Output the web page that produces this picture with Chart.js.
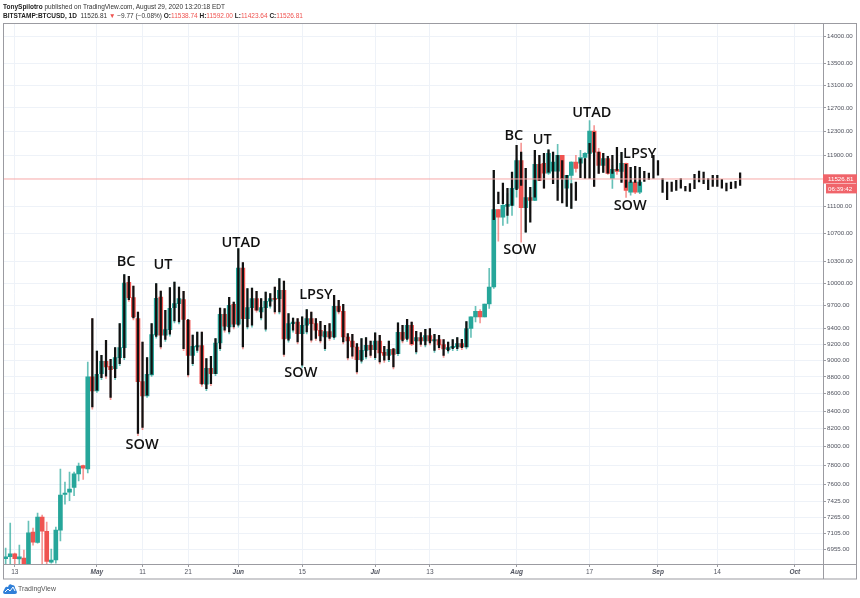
<!DOCTYPE html>
<html>
<head>
<meta charset="utf-8">
<script src="https://cdn.jsdelivr.net/npm/chart.js@4/dist/chart.umd.min.js"></script>
<style>
html,body{margin:0;padding:0;background:#fff;width:860px;height:598px;overflow:hidden}
canvas{position:absolute;left:0;top:0}
.hdr{position:absolute;left:3px;font-family:"Liberation Sans",Arial,sans-serif;font-size:6.5px;line-height:9px;color:#333;white-space:pre}
.hdr b{color:#222}
.hdr i{font-style:normal;color:#ef5350}
#logo{position:absolute;left:3px;top:583px;width:14px;height:11px}
#brand{position:absolute;left:18px;top:584px;font-family:"Liberation Sans",Arial,sans-serif;font-size:6.9px;line-height:10px;color:#555}
</style>
</head>
<body>
<canvas id="c" width="860" height="598"></canvas>
<div class="hdr" style="top:2px"><b>TonySpilotro</b> published on TradingView.com, August 29, 2020 13:20:18 EDT</div>
<div class="hdr" style="top:11px"><b>BITSTAMP:BTCUSD, 1D</b>  11526.81 <i>▼</i> −9.77 (−0.08%) <b>O:</b><i>11538.74</i> <b>H:</b><i>11592.00</i> <b>L:</b><i>11423.64</i> <b>C:</b><i>11526.81</i></div>
<svg id="logo" viewBox="0 0 14 11"><path d="M0 9 L2 5 Q3 3 5 4 Q6 0 9 2 Q12 2 12 5 L14 9 Q14 11 12 11 L2 11 Q0 11 0 9Z" fill="#2f7fd8"/><path d="M2 9 L5 6 L7 8 L10 4 L12 8" fill="none" stroke="#fff" stroke-width="1"/></svg>
<div id="brand">TradingView</div>
<script>
// Day index 0 = 11 Apr 2020
const xTickDays = [2,20,30,40,51,65,81,93,112,128,143,156,173];
const xTickLabels = ["13","May","11","21","Jun","15","Jul","13","Aug","17","Sep","14","Oct"];
const priceTicks = [14000,13500,13100,12700,12300,11900,11100,10700,10300,10000,9700,9400,9200,9000,8800,8600,8400,8200,8000,7800,7600,7425,7265,7105,6955];
const lastPrice = 11526.81;

// Coloured candles, day 0 .. 139
const opens = [6867,6886,6914,6865,6874,6800,7122,7022,7268,7128,
6836,6855,7141,7497,7520,7569,7710,7798,7763,8800,
8633,8840,8990,8928,8900,9035,9159,10011,9805,9528,
8744,8574,8824,9318,9813,9314,9387,9672,9725,9778,
9506,9063,9166,9184,8712,8904,8840,9217,9585,9420,
9716,9455,10209,9528,9672,9791,9615,9672,9756,9796,
9791,9903,9273,9464,9484,9336,9442,9528,9464,9378,
9292,9361,9292,9690,9624,9292,9242,9166,9010,9125,
9188,9134,9242,9100,9063,9137,9084,9352,9273,9442,
9242,9286,9242,9310,9242,9260,9196,9134,9159,9166,
9209,9166,9400,9550,9624,9550,9720,9948,11054,10943,
11105,11120,11380,11822,11085,11240,11195,11758,11774,11620,
11650,11650,11903,11385,11584,11795,11780,11870,11936,12305,
11957,11742,11854,11537,11678,11646,11774,11323,11480,11323];
const closes = [6886,6914,6867,6884,6800,7115,7025,7268,7131,6843,
6855,7141,7490,7510,7551,7710,7791,7770,8800,8633,
8832,8990,8920,8888,9035,9159,10002,9805,9550,8744,
8574,8832,9323,9796,9314,9387,9663,9725,9791,9519,
9063,9175,9184,8720,8904,8840,9217,9585,9429,9703,
9455,10209,9528,9672,9791,9637,9672,9756,9791,9782,
9903,9267,9464,9484,9336,9442,9528,9464,9378,9305,
9361,9292,9690,9624,9292,9242,9166,9010,9125,9188,
9134,9242,9092,9063,9137,9075,9352,9260,9442,9200,
9286,9242,9310,9242,9260,9192,9142,9159,9175,9209,
9166,9400,9550,9624,9550,9720,9948,11054,10943,11120,
11135,11380,11822,11085,11240,11195,11758,11505,11620,11936,
11795,11903,11532,11584,11795,11694,11870,11936,12305,11957,
11742,11854,11615,11678,11646,11774,11349,11480,11323,11480];
const highs = [6968,7210,6920,6996,6949,7229,7160,7308,7288,7220,
6958,7170,7760,7623,7728,7728,7823,7802,8981,9528,
9116,9063,9251,9014,9159,9464,10118,10094,9961,9615,
9229,9035,9464,9994,9894,9637,9939,10016,9948,9889,
9515,9318,9356,9356,9023,9051,9273,9667,9659,9809,
9746,10482,10284,9925,9933,9889,9791,9880,9858,9948,
10062,10029,9594,9536,9528,9550,9646,9615,9528,9493,
9442,9464,9836,9769,9716,9336,9327,9209,9273,9286,
9242,9344,9314,9175,9242,9146,9472,9442,9519,9484,
9365,9349,9391,9400,9327,9314,9260,9229,9260,9286,
9264,9489,9550,9690,9646,9720,10205,11662,11060,11460,
11300,11600,11850,12105,11694,11323,11985,11903,11936,11996,
11957,12083,11903,11584,11800,11903,11985,11950,12484,12400,
12018,11936,11887,11742,12035,11952,11780,11710,11726,11710];
const lows = [6700,6700,6700,6700,6700,6700,6996,7015,6700,6700,
6826,6826,7035,7398,7432,7483,7637,7651,7721,8420,
8616,8767,8783,8531,8767,8936,9010,9753,9511,8121,
8188,8557,8807,9276,9141,9235,9302,9472,9459,9121,
8799,8936,9100,8687,8636,8695,8815,9121,9353,9331,
9395,9417,9141,9395,9417,9612,9511,9366,9665,9590,
9590,9050,9226,9353,9204,8916,9331,9226,9248,9217,
9121,9248,9261,9590,9204,9005,9026,8835,8965,9018,
9038,9010,8956,8977,8985,8895,9059,9217,9235,9184,
9079,9175,9167,9192,9100,9134,9038,9091,9121,9121,
9134,9141,9286,9484,9472,9550,9663,9930,10591,10820,
10850,10969,11245,10577,10722,11000,11190,11505,11385,11600,
11454,11395,11395,11105,11075,11635,11715,11537,11854,11412,
11615,11630,11600,11380,11600,11500,11240,11275,11300,11300];

// Black overlay bars, first one on day 19
const overlayFirstDay = 19;
const overlayHigh = [9528,
9116,9063,9251,9014,9159,9464,10118,10094,9961,9615,
9229,9035,9464,9994,9894,9637,9939,10016,9948,9889,
9515,9318,9356,9356,9023,9051,9273,9667,9659,9809,
9746,10482,10284,9925,9933,9889,9791,9880,9858,9948,
10062,10029,9594,9536,9528,9550,9646,9615,9528,9493,
9442,9464,9836,9769,9716,9336,9327,9209,9273,9286,
9242,9344,9314,9175,9242,9146,9472,9442,9519,9484,
9365,9349,9391,9400,9327,9314,9260,9229,9260,9286,
9264,9489,null,null,null,null,null,11662,11323,11463,
11380,11635,12067,11957,11694,11396,11985,11903,11936,11996,
11957,11903,11822,11584,11454,11480,11850,11854,12100,12283,
11957,11936,11887,11903,12035,11952,11758,11710,11726,11710,
11646,11620,11903,11822,11532,11480,11480,11505,11532,11412,
11454,11600,11650,11635,11532,11584,11584,11520,11463,11480,
11490,11625];
const overlayLow = [8447,
8641,8792,8808,8556,8792,8961,9035,9778,9536,8146,
8213,8582,8832,9301,9166,9260,9327,9497,9484,9146,
8824,8961,9125,8712,8661,8720,8840,9146,9378,9356,
9420,9442,9166,9420,9442,9637,9536,9391,9690,9615,
9615,9075,9251,9378,9229,8941,9356,9251,9273,9242,
9146,9273,9286,9615,9229,9030,9051,8860,8990,9043,
9063,9035,8981,9002,9010,8920,9084,9242,9260,9209,
9104,9200,9192,9217,9125,9159,9063,9116,9146,9146,
9159,9166,null,null,null,null,null,10904,11145,11145,
10969,11120,11360,11427,10722,10869,11245,11505,11385,11635,
11454,11195,11155,11105,11075,11195,11547,11537,11537,11412,
11615,11630,11620,11615,11662,11474,11396,11474,11474,11427,
11490,11520,11537,11589,11318,11205,11334,11349,11385,11339,
11334,11375,11480,11454,11360,11412,11412,11385,11339,11375,
11385,11427];

const noteTexts = ["BC","UT","SOW","UTAD","LPSY","SOW","BC","UT","UTAD","LPSY","SOW","SOW"];
const noteDays = [26.4,34.5,29.9,51.6,68,64.7,111.4,117.6,128.5,139,112.7,136.9];
const notePrices = [10290,10247,8017,10572,9836,8844,12232,12165,12609,11936,10458,11105];

const TEAL = "#26a69a", RED = "#ef5350", GRID = "#eef2f8", FRAME = "#9b9ba1", TXT = "#50535e";

const candleColors = opens.map((o,i)=> closes[i] >= o ? TEAL : RED);
const wickColors = opens.map((o,i)=> closes[i] >= o ? "rgba(38,166,154,.7)" : "rgba(239,83,80,.6)");
const wicks = opens.map((o,i)=>({x:i, y:[lows[i],highs[i]]}));
const bodies = opens.map((o,i)=>({x:i, y:[Math.min(o,closes[i]),Math.max(o,closes[i])]}));
const overlay = overlayHigh.map((h,k)=> h===null ? null : ({x:overlayFirstDay+k, y:[overlayLow[k],h]})).filter(Boolean);

const extras = {
  id:"extras",
  afterDatasetsDraw(chart){
    const c = chart.ctx, xs = chart.scales.x, ys = chart.scales.y;
    c.save();
    c.fillStyle = "#111";
    c.font = '600 14.5px "Open Sans"';
    c.textAlign = "center"; c.textBaseline = "middle";
    noteTexts.forEach((t,i)=> c.fillText(t, xs.getPixelForValue(noteDays[i]), ys.getPixelForValue(notePrices[i])));
    c.restore();
  },
  afterDraw(chart){
    const c = chart.ctx, ys = chart.scales.y;
    c.save();
    c.strokeStyle = FRAME; c.lineWidth = 1;
    c.strokeRect(3.5,23.5,853,555.5);
    c.beginPath(); c.moveTo(823.5,23.5); c.lineTo(823.5,579); c.moveTo(3.5,564.5); c.lineTo(857,564.5); c.stroke();
    const py = ys.getPixelForValue(lastPrice);
    c.fillStyle = "#f0646a";
    c.fillRect(823,py-4.7,34,9.2);
    c.fillRect(826,py+5,31,9.4);
    c.fillStyle = "#fff";
    c.font = '6.2px "Liberation Sans"';
    c.textAlign = "left"; c.textBaseline = "middle";
    c.fillText(lastPrice.toFixed(2),828,py+0.2);
    c.fillText("06:39:42",828,py+10);
    c.restore();
  }
};

new Chart(document.getElementById("c"),{
  type:"bar",
  plugins:[extras],
  data:{datasets:[
    {type:"line",data:[{x:-1,y:lastPrice},{x:180,y:lastPrice}],borderColor:"#f7a9a8",borderWidth:1,pointRadius:0,order:-1},
    {data:overlay,backgroundColor:"#111",barThickness:1.6,grouped:false,order:0},
    {data:bodies,backgroundColor:candleColors,barThickness:4,grouped:false,order:1},
    {data:wicks,backgroundColor:wickColors,barThickness:1,grouped:false,order:2}
  ]},
  options:{
    responsive:false,
    animation:false,
    devicePixelRatio:1,
    layout:{padding:{left:3.4,top:23.5,right:0,bottom:19}},
    plugins:{legend:{display:false},tooltip:{enabled:false},title:{display:false}},
    scales:{
      x:{
        type:"linear",offset:false,min:-0.495,max:179.17,
        grid:{offset:false,color:GRID,drawTicks:true,tickLength:3,tickColor:FRAME},
        border:{display:false},
        afterBuildTicks(s){s.ticks = xTickDays.map(v=>({value:v}));},
        afterFit(s){s.height = 15;},
        ticks:{
          autoSkip:false,maxRotation:0,padding:1,color:TXT,
          font(ctx){
            const l = xTickLabels[xTickDays.indexOf(ctx.tick ? ctx.tick.value : -1)];
            return {family:'"Liberation Sans"',size:6.5,style:l && /[A-Z]/.test(l) ? "italic" : "normal",weight:l && /[A-Z]/.test(l) ? "bold" : "normal"};
          },
          callback(v){return xTickLabels[xTickDays.indexOf(v)];}
        }
      },
      y:{
        type:"logarithmic",position:"right",min:6818,max:14250,
        grid:{color:GRID,drawTicks:true,tickLength:3,tickColor:FRAME},
        border:{display:false},
        afterBuildTicks(s){s.ticks = priceTicks.map(v=>({value:v}));},
        afterFit(s){s.width = 37;},
        ticks:{
          autoSkip:false,padding:1,color:TXT,
          font:{family:'"Liberation Sans"',size:6.2},
          callback(v){return Number(v).toFixed(2);}
        }
      }
    }
  }
});
</script>
</body>
</html>
